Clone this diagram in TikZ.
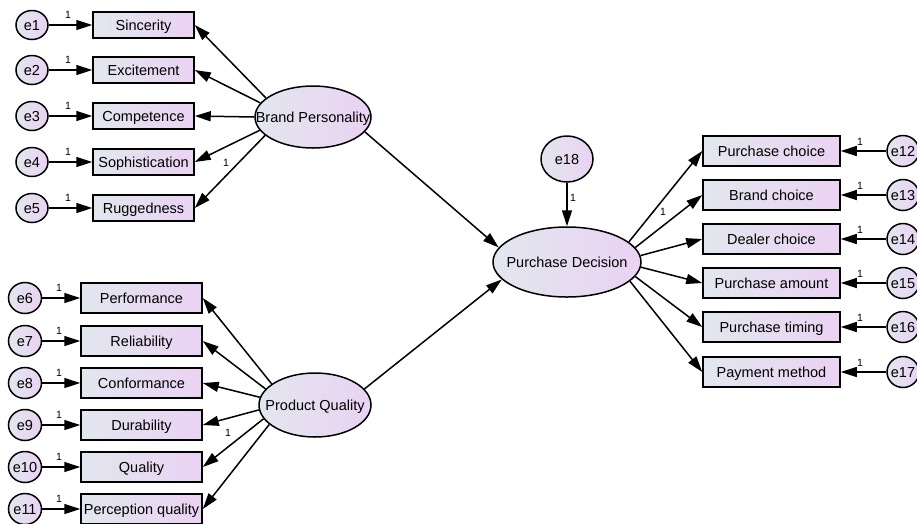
\documentclass[tikz,border=0pt]{standalone}
\usepackage{fontspec}
\setmainfont{Liberation Sans}
\usetikzlibrary{arrows.meta,shapes.geometric}
\definecolor{gA}{RGB}{226,231,238}
\definecolor{gB}{RGB}{234,210,243}
\begin{document}
\begin{tikzpicture}[x=1pt,y=-1pt,
  txt/.style={inner sep=0pt, text height=10.4pt, text depth=0pt, font=\fontsize{14.5}{17}\selectfont},
  obsbox/.style={rectangle, draw=black, line width=1.5pt, left color=gA, right color=gB, inner sep=0pt, text height=10.4pt, text depth=0pt, font=\fontsize{14.5}{17}\selectfont},
  errc/.style={ellipse, draw=black, line width=1.5pt, left color=gA, right color=gB, inner sep=0pt},
  latent/.style={ellipse, draw=black, line width=1.5pt, left color=gA, right color=gB, inner sep=0pt},
  arr/.style={line width=1.5pt, -{Triangle[length=16pt,width=10pt]}},
  one/.style={inner sep=0pt, font=\fontsize{10.5}{12}\selectfont}]
\useasboundingbox (0,0) rectangle (917,523);
\clip (0,0) rectangle (917,523);

% latent variables
\node[latent, minimum width=116pt, minimum height=62pt] (bp) at (313,117) {};
\node[txt] (bpt) at (bp) {Brand Personality};
\node[latent, minimum width=112pt, minimum height=64pt] (pq) at (315,405) {};
\node[txt] (pqt) at (pq) {Product Quality};
\node[latent, minimum width=148pt, minimum height=70pt] (pd) at (567,262) {};
\node[txt] (pdt) at (pd) {Purchase Decision};
\node[errc, minimum width=52pt, minimum height=46pt] (e18) at (567,159) {};
\node[txt] (e18t) at (e18) {e18};

% Brand personality indicators
\foreach \n/\y/\t in {1/25/Sincerity, 2/70/Excitement, 3/116/Competence, 4/162/Sophistication, 5/208/Ruggedness} {
  \node[errc, minimum width=32pt, minimum height=29pt] (e\n) at (32,\y) {};
  \node[txt] (e\n t) at (e\n) {e\n};
  \node[obsbox, minimum width=101pt, minimum height=26pt] (v\n) at (143.5,\y) {\t};
  \draw[arr] (e\n) -- (v\n);
  \node[one] (o\n) at (68,\y-10) {1};
}
% Product quality indicators
\foreach \n/\y/\t in {6/298/Performance, 7/341/Reliability, 8/383/Conformance, 9/425/Durability, 10/467/Quality, 11/509/Perception quality} {
  \node[errc, minimum width=33pt, minimum height=31pt] (e\n) at (25,\y) {};
  \node[txt] (e\n t) at (e\n) {e\n};
  \node[obsbox, minimum width=121pt, minimum height=30pt] (v\n) at (141.5,\y) {\t};
  \draw[arr] (e\n) -- (v\n);
  \node[one] (o\n) at (59,\y-10) {1};
}
% Purchase decision indicators
\foreach \n/\y/\t in {12/151/Purchase choice, 13/195/Brand choice, 14/239/Dealer choice, 15/283/Purchase amount, 16/327/Purchase timing, 17/372/Payment method} {
  \node[errc, minimum width=32pt, minimum height=31pt] (e\n) at (903,\y) {};
  \node[txt] (e\n t) at (e\n) {e\n};
  \node[obsbox, minimum width=137pt, minimum height=30pt] (v\n) at (771.5,\y) {\t};
  \draw[arr] (e\n) -- (v\n);
  \node[one] (o\n) at (860,\y-9) {1};
}

% loadings
\foreach \n/\a in {1/158, 2/165, 3/180, 4/194, 5/201} \draw[arr] (bp.\a) -- (v\n.east);
\foreach \n/\a in {6/154, 7/162, 8/172, 9/185, 10/195, 11/203} \draw[arr] (pq.\a) -- (v\n.east);
\foreach \n/\a in {12/18, 13/12, 14/5, 15/356, 16/348, 17/343} \draw[arr] (pd.\a) -- (v\n.west);

% structural paths
\draw[arr] (bp.344) -- (pd.168);
\draw[arr] (pq.18) -- (pd.195);
\draw[arr] (e18) -- (pd);

\node[one] (l1) at (226,163) {1};
\node[one] (l2) at (228,433) {1};
\node[one] (l3) at (663,212) {1};
\node[one] (l4) at (573,198) {1};
\end{tikzpicture}
\end{document}
